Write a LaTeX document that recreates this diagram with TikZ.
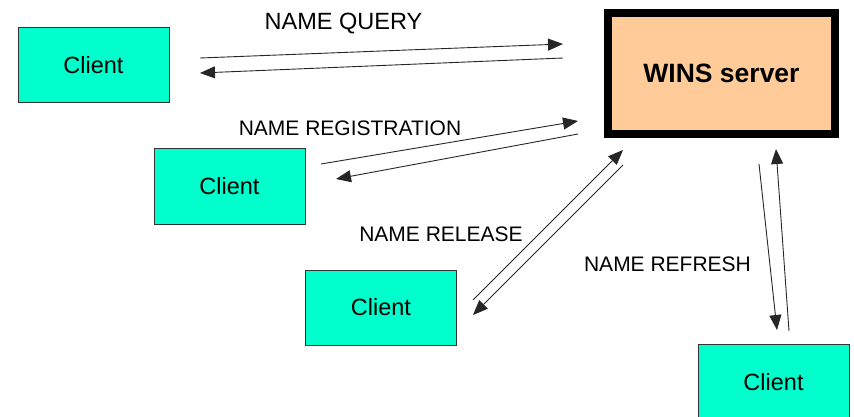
\documentclass[tikz,border=0pt]{standalone}
\usepackage{fontspec}
\setmainfont{Liberation Sans}
\usetikzlibrary{arrows.meta}
\definecolor{clientfill}{RGB}{0,255,204}
\definecolor{serverfill}{RGB}{255,204,153}
\tikzset{
  clientbox/.style={draw=black!80, line width=1pt, fill=clientfill, minimum width=151pt, minimum height=75pt, inner sep=0pt, font=\fontsize{23.5}{27}\selectfont},
  serverbox/.style={draw=black, line width=8pt, fill=serverfill, minimum width=227pt, minimum height=121pt, inner sep=0pt, font=\fontsize{26.5}{30}\bfseries\selectfont},
  msg/.style={draw=black!85, line width=0.9pt, -{Triangle[length=15pt,width=12pt]}},
  lbl/.style={font=\fontsize{21}{24}\selectfont, inner sep=0pt, text depth=0pt}
}
\begin{document}
\begin{tikzpicture}[x=1pt,y=-1pt]
\useasboundingbox (0,0) rectangle (854,417);
\node[clientbox] (c1) at (93.5,65.5) {Client};
\node[clientbox] (c2) at (229.5,186.5) {Client};
\node[clientbox] (c3) at (381,307.5) {Client};
\node[clientbox] (c4) at (773.5,382) {Client};
\node[serverbox] (srv) at (721.5,73.5) {WINS server};
% free ends
\coordinate (q1s) at (200,58);  \coordinate (q1e) at (563,44);
\coordinate (q2s) at (563,58);  \coordinate (q2e) at (200,73);
\coordinate (r1s) at (321,164); \coordinate (r1e) at (578,121);
\coordinate (r2s) at (578,134); \coordinate (r2e) at (336,179);
\coordinate (l1s) at (473,300); \coordinate (l1e) at (623,150);
\coordinate (l2s) at (623,165); \coordinate (l2e) at (473,315);
\coordinate (f1s) at (759,164); \coordinate (f1e) at (777,330);
\coordinate (f2s) at (789,331); \coordinate (f2e) at (776,149);
\draw[msg] (q1s) -- (q1e);
\draw[msg] (q2s) -- (q2e);
\draw[msg] (r1s) -- (r1e);
\draw[msg] (r2s) -- (r2e);
\draw[msg] (l1s) -- (l1e);
\draw[msg] (l2s) -- (l2e);
\draw[msg] (f1s) -- (f1e);
\draw[msg] (f2s) -- (f2e);
\node[lbl, font=\fontsize{23.5}{27}\selectfont] (tq) at (343.5,21) {NAME QUERY};
\node[lbl] (tr) at (350,128.5) {NAME REGISTRATION};
\node[lbl] (tl) at (441,234) {NAME RELEASE};
\node[lbl] (tf) at (667.5,264) {NAME REFRESH};
\end{tikzpicture}
\end{document}
